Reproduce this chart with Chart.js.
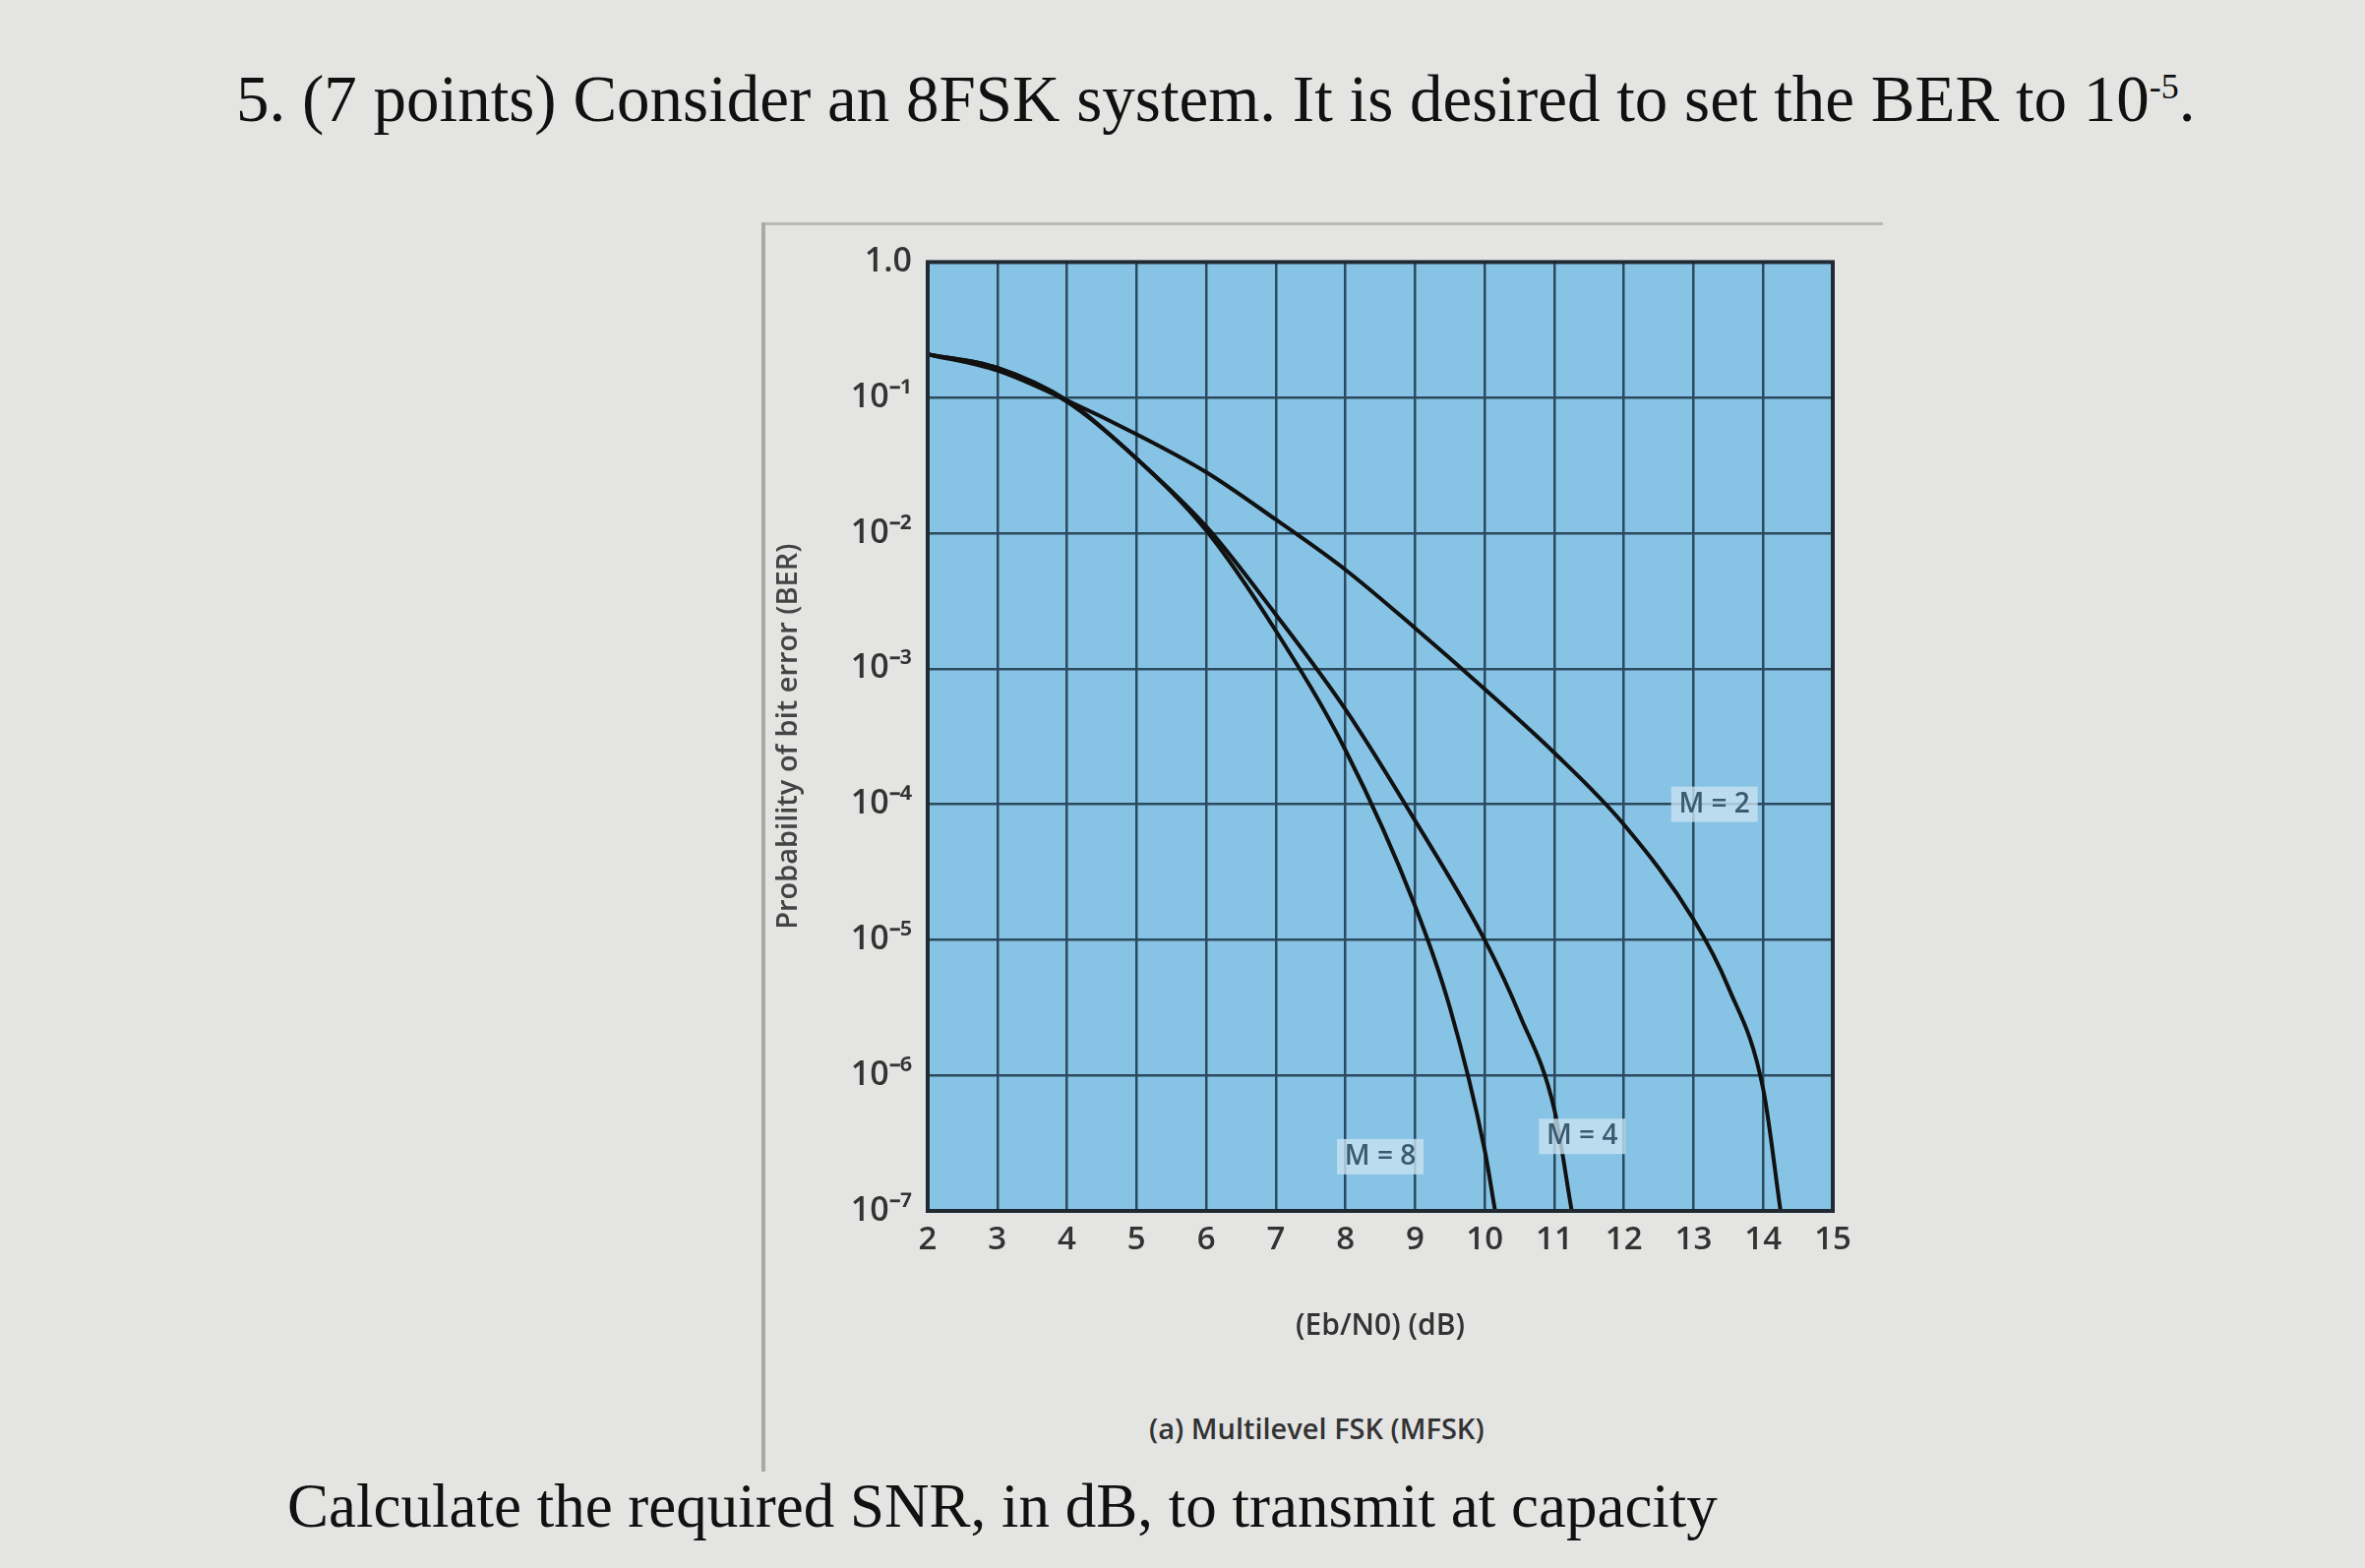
<!DOCTYPE html>
<html><head><meta charset="utf-8">
<script src="https://cdn.jsdelivr.net/npm/chart.js@4/dist/chart.umd.min.js"></script>
<style>
body{margin:0;width:2404px;height:1594px;background:#e4e5e3;position:relative;overflow:hidden;font-family:"Liberation Serif",serif}
.t{position:absolute;color:#111;white-space:nowrap}
#wrap{position:absolute;left:780px;top:230px;width:1120px;height:1180px}
</style></head><body>
<div class="t" style="left:240px;top:62px;font-size:67px">5. (7 points) Consider an 8FSK system. It is desired to set the BER to 10<sup style="font-size:36px">-5</sup>.</div>
<div style="position:absolute;left:774px;top:226px;width:1140px;height:0;border-top:3px solid #b9bab8"></div>
<div style="position:absolute;left:774px;top:226px;width:0;height:1270px;border-left:4px solid #a9aaa8"></div>
<div class="t" style="left:1168px;top:1432px;font-size:29px;font-family:'Open Sans',sans-serif;font-weight:600;color:#333">(a) Multilevel FSK (MFSK)</div>
<div class="t" style="left:292px;top:1495px;font-size:63px">Calculate the required SNR, in dB, to transmit at capacity</div>
<div id="wrap"><canvas id="c"></canvas></div>
<script>
const xTicks=[2,3,4,5,6,7,8,9,10,11,12,13,14,15];
const yTickLabels={0:'1.0','-1':'10⁻¹','-2':'10⁻²','-3':'10⁻³','-4':'10⁻⁴','-5':'10⁻⁵','-6':'10⁻⁶','-7':'10⁻⁷'};
const m2x=[2,3,4,5,6,7,8,9,10,11,12,13,13.5,14,14.25];
const m2y=[-0.68,-0.8,-1.02,-1.27,-1.55,-1.9,-2.27,-2.7,-3.15,-3.62,-4.15,-4.85,-5.35,-6.1,-7];
const m4x=[2,3,4,5,6,7,8,9,10,10.5,11,11.25];
const m4y=[-0.68,-0.78,-1.02,-1.45,-1.95,-2.6,-3.3,-4.12,-5.0,-5.55,-6.25,-7];
const m8x=[2,3,4,5,6,7,8,9,9.5,10,10.15];
const m8y=[-0.68,-0.78,-1.03,-1.45,-1.98,-2.72,-3.6,-4.75,-5.5,-6.55,-7];
const mk=(xs,ys)=>xs.map((x,i)=>({x:x,y:Math.pow(10,ys[i])}));
const labels=[{t:'M = 2',x:13.3,y:-4.0},{t:'M = 4',x:11.4,y:-6.45},{t:'M = 8',x:8.5,y:-6.6}];
const bg={id:'bg',beforeDraw(ch){const a=ch.chartArea,c=ch.ctx;c.save();c.fillStyle='#86c3e4';c.fillRect(a.left,a.top,a.right-a.left,a.bottom-a.top);c.restore();},
afterDraw(ch){const c=ch.ctx,a=ch.chartArea;c.save();c.strokeStyle='#1f2a33';c.lineWidth=4;c.strokeRect(a.left,a.top,a.right-a.left,a.bottom-a.top);
c.font='600 28px "Open Sans"';c.textAlign='center';c.textBaseline='middle';
labels.forEach(l=>{const px=ch.scales.x.getPixelForValue(l.x),py=ch.scales.y.getPixelForValue(Math.pow(10,l.y));c.fillStyle='rgba(200,225,240,0.8)';c.fillRect(px-44,py-18,88,36);c.fillStyle='#3a5a70';c.fillText(l.t,px,py);});c.restore();}};
const ds=(d)=>({data:d,borderColor:'#111',borderWidth:4,pointRadius:0,cubicInterpolationMode:'monotone',fill:false});
new Chart(document.getElementById('c'),{type:'line',data:{datasets:[ds(mk(m2x,m2y)),ds(mk(m4x,m4y)),ds(mk(m8x,m8y))]},
options:{responsive:true,maintainAspectRatio:false,animation:false,layout:{padding:{top:34,right:37,bottom:40}},
plugins:{legend:{display:false},tooltip:{enabled:false}},
scales:{x:{type:'linear',min:2,max:15,afterBuildTicks(s){s.ticks=xTicks.map(v=>({value:v}));},afterFit(s){s.height=139;},
grid:{color:'#2b4a5e',lineWidth:2.5,drawTicks:false},border:{display:false},
ticks:{padding:10,color:'#333',font:{family:'Open Sans',size:33,weight:'600'}},
title:{display:true,text:'(Eb/N0) (dB)',color:'#333',font:{family:'Open Sans',size:30,weight:'600'},padding:{top:0}}},
y:{type:'logarithmic',min:1e-7,max:1,afterBuildTicks(s){s.ticks=[0,-1,-2,-3,-4,-5,-6,-7].map(e=>({value:Math.pow(10,e)}));},afterFit(s){s.width=163;},
grid:{color:'#2b4a5e',lineWidth:2.5,drawTicks:false},border:{display:false},
ticks:{padding:16,color:'#333',font:{family:'Open Sans',size:34,weight:'600'},callback:v=>yTickLabels[Math.round(Math.log10(v))]},
title:{display:true,text:'Probability of bit error (BER)',color:'#444',font:{family:'Open Sans',size:29,weight:'600'},padding:{bottom:6}}}}},
plugins:[bg]});
</script>
</body></html>
